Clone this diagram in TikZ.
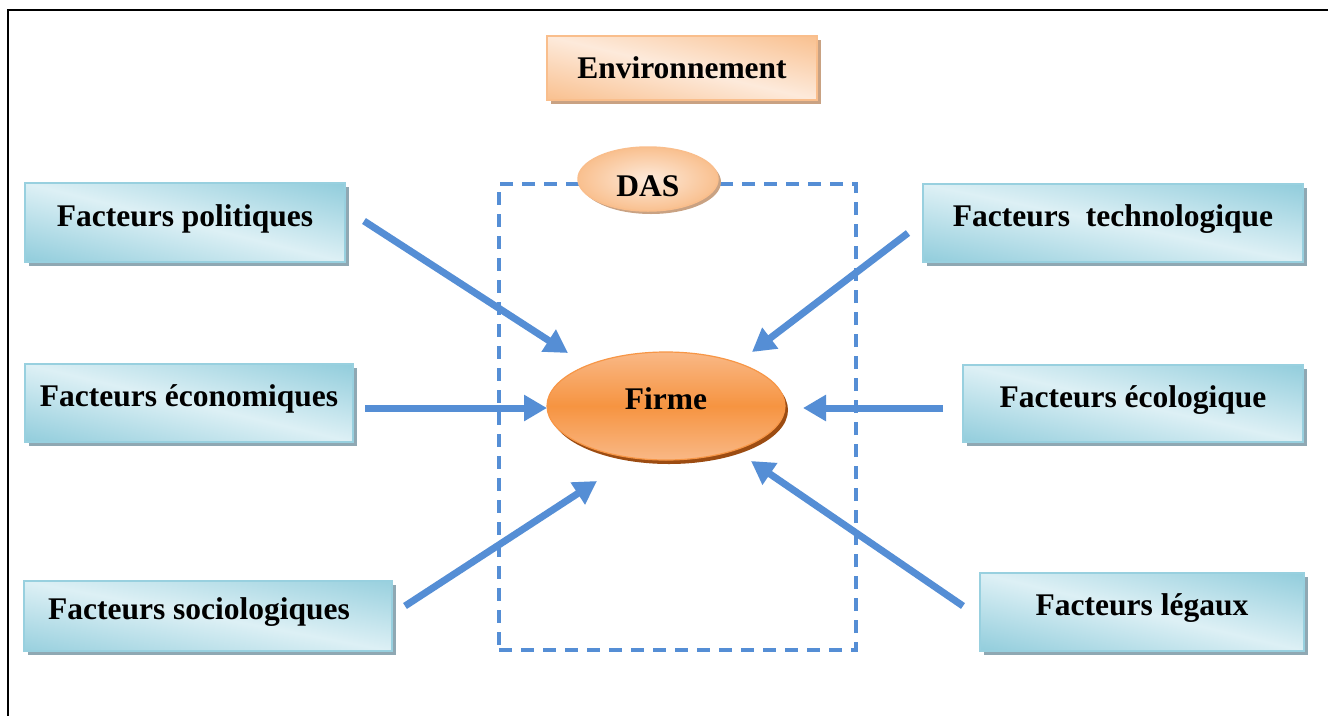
\documentclass[tikz,border=0pt]{standalone}
\usepackage{fontspec}
\setmainfont{Liberation Serif}
\usetikzlibrary{shapes.geometric,shadows,arrows.meta}
\definecolor{blight}{HTML}{DDF0F5}
\definecolor{bdark}{HTML}{92CDDC}
\definecolor{bborder}{HTML}{98D0DF}
\definecolor{bshadow}{HTML}{8FA8B3}
\definecolor{plight}{HTML}{FDEADB}
\definecolor{pdark}{HTML}{F9C08F}
\definecolor{pborder}{HTML}{F9BE8C}
\definecolor{pshadow}{HTML}{C9A283}
\definecolor{forange}{HTML}{F69441}
\definecolor{flight}{HTML}{F9B886}
\definecolor{fborder}{HTML}{F79646}
\definecolor{fshadow}{HTML}{9C4C12}
\definecolor{arrowblue}{HTML}{558ED5}
% dark - light - dark band shadings (light band along one diagonal of the box)
\pgfdeclarehorizontalshading{bshade}{100bp}{color(0bp)=(bdark); color(40.6bp)=(bdark); color(50bp)=(blight); color(59.4bp)=(bdark); color(100bp)=(bdark)}
\pgfdeclarehorizontalshading{pshade}{100bp}{color(0bp)=(pdark); color(42.2bp)=(pdark); color(50bp)=(plight); color(57.8bp)=(pdark); color(100bp)=(pdark)}
% shadow + clipped diagonal gradient behind a box: x, y, w, h, angle, shading, shadow colour
\newcommand\gradback[7]{%
  \fill[#7] ({#1-#3/2+4},{#2-#4/2+4}) rectangle ++(#3,#4);
  \begin{scope}
    \clip ({#1-#3/2},{#2-#4/2}) rectangle ++(#3,#4);
    \shade[shading=#6, transform canvas={shift={(#1pt,-#2pt)}, rotate=#5}]
      (-200pt,-200pt) rectangle (200pt,200pt);
  \end{scope}}
\tikzset{
  lbl/.style={font=\fontsize{31.5}{36}\selectfont\bfseries, text=black, inner sep=0pt},
  factorbox/.style={lbl, rectangle, draw=bborder, line width=2.5pt,
    text height=15pt, text depth=8pt},
  envbox/.style={lbl, rectangle, draw=pborder, line width=2.5pt,
    text height=22pt, text depth=2pt},
  dasell/.style={lbl, ellipse, draw=pborder, line width=1.5pt,
    inner color=plight, outer color=pdark,
    text height=36pt, text depth=2pt,
    general shadow={fill=pshadow, shadow xshift=3pt, shadow yshift=-3pt}},
  firmell/.style={lbl, ellipse, draw=fborder, line width=1.2pt,
    top color=flight, bottom color=flight, middle color=forange,
    text height=14pt, text depth=8pt,
    general shadow={fill=fshadow, shadow xshift=3pt, shadow yshift=-4pt}},
  dashbox/.style={rectangle, draw=arrowblue, line width=3.5pt, dash pattern=on 13pt off 9pt},
  bigarrow/.style={draw=arrowblue, line width=7pt, -{Triangle[length=23pt,width=25pt]}},
}
\begin{document}
\begin{tikzpicture}[x=1pt,y=-1pt]
\useasboundingbox (0,0) rectangle (1328,715);
\fill[white] (0,0) rectangle (1328,715);
% outer frame
\draw[line width=2pt] (8,716) -- (8,10) -- (1329,10);

% DAS dashed zone
\node[dashbox, minimum width=357pt, minimum height=466pt] (zone) at (677.5,417) {};

% central nodes
\gradback{682}{68}{270}{64}{76.7}{pshade}{pshadow}
\node[envbox, minimum width=270pt, minimum height=64pt] (env) at (682,68) {Environnement};
\node[dasell, minimum width=140pt, minimum height=64pt] (das) at (648,179) {DAS};
\node[firmell, minimum width=238pt, minimum height=108pt] (firme) at (666,406) {Firme};

% factor boxes
\gradback{185}{222.5}{320}{79}{76.1}{bshade}{bshadow}
\node[factorbox, minimum width=320pt, minimum height=79pt] (pol) at (185,222.5) {Facteurs politiques};
\gradback{189}{403}{328}{78}{76.6}{bshade}{bshadow}
\node[factorbox, minimum width=328pt, minimum height=78pt] (eco) at (189,403) {Facteurs économiques};
\gradback{208}{616}{368}{70}{79.2}{bshade}{bshadow}
\node[factorbox, minimum width=368pt, minimum height=70pt] (soc) at (208,616) {\hspace*{-18pt}Facteurs sociologiques};
\gradback{1113}{223}{380}{78}{78.4}{bshade}{bshadow}
\node[factorbox, minimum width=380pt, minimum height=78pt] (tech) at (1113,223) {Facteurs\ \ technologique};
\gradback{1133}{403.5}{340}{77}{77.2}{bshade}{bshadow}
\node[factorbox, minimum width=340pt, minimum height=77pt] (ecol) at (1133,403.5) {Facteurs écologique};
\gradback{1142}{612}{324}{78}{76.5}{bshade}{bshadow}
\node[factorbox, minimum width=324pt, minimum height=78pt] (leg) at (1142,612) {Facteurs légaux};

% arrow ends
\coordinate (polS) at (364,221);  \coordinate (polE) at (568,353);
\coordinate (ecoS) at (365,408);  \coordinate (ecoE) at (547,408);
\coordinate (socS) at (405,606);  \coordinate (socE) at (597,481);
\coordinate (techS) at (908,233); \coordinate (techE) at (752,352);
\coordinate (ecolS) at (943,408); \coordinate (ecolE) at (803,408);
\coordinate (legS) at (963,606);  \coordinate (legE) at (751,461);

\draw[bigarrow] (polS) -- (polE);
\draw[bigarrow] (ecoS) -- (ecoE);
\draw[bigarrow] (socS) -- (socE);
\draw[bigarrow] (techS) -- (techE);
\draw[bigarrow] (ecolS) -- (ecolE);
\draw[bigarrow] (legS) -- (legE);
\end{tikzpicture}
\end{document}
